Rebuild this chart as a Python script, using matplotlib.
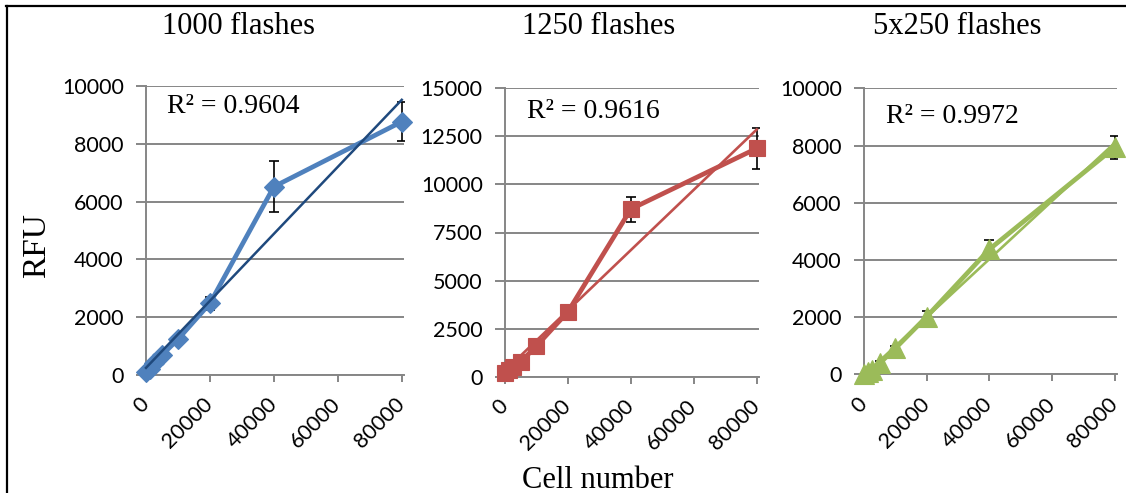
import numpy as np
import matplotlib
matplotlib.use("Agg")
import matplotlib.pyplot as plt
from matplotlib.lines import Line2D

# Cell numbers (shared x values)
cells = [0, 1250, 2500, 5000, 10000, 20000, 40000, 80000]

# Mean RFU and standard deviation per flash setting
rfu_1000 = [100, 200, 400, 690, 1235, 2480, 6516, 8765]
err_1000 = [30, 40, 60, 80, 110, 220, 890, 680]

rfu_1250 = [190, 350, 520, 780, 1597, 3380, 8720, 11877]
err_1250 = [30, 40, 60, 90, 120, 200, 650, 1060]

rfu_5x250 = [20, 80, 150, 385, 909, 2014, 4370, 7937]
err_5x250 = [20, 40, 60, 90, 80, 200, 330, 400]

titles = ["1000 flashes", "1250 flashes", "5x250 flashes"]
r2_labels = ["R\u00b2 = 0.9604", "R\u00b2 = 0.9616", "R\u00b2 = 0.9972"]
y_ticks = [
    [0, 2000, 4000, 6000, 8000, 10000],
    [0, 2500, 5000, 7500, 10000, 12500, 15000],
    [0, 2000, 4000, 6000, 8000, 10000],
]
x_ticks = [0, 20000, 40000, 60000, 80000]

W, H = 1126, 493
fig = plt.figure(figsize=(W / 100, H / 100), dpi=100)
fig.patch.set_facecolor("white")

serif = "Liberation Serif"
sans = "Lato"
grid_col = "#868686"

# panel boxes in pixels: left, right, top, bottom
boxes = [(146, 404, 86, 375), (505, 759, 88.3, 376.7), (864, 1117, 88.3, 374.3)]
series = [
    (rfu_1000, err_1000, "#4F81BD", "#1F497D", "D", 10.5, 1.8),
    (rfu_1250, err_1250, "#C0504D", "#C0504D", "s", 11.0, 1.9),
    (rfu_5x250, err_5x250, "#9BBB59", "#9BBB59", "^", 14, 1.9),
]
title_x = [239, 598.5, 957]
r2_pos = [(167, 113), (527, 118), (886, 123)]

x = np.array(cells, dtype=float)
for i, (box, ser) in enumerate(zip(boxes, series)):
    l, r, t, b = box
    ax = fig.add_axes([l / W, (H - b) / H, (r - l) / W, (b - t) / H])
    y, e, col, tcol, mk, ms, tlw = ser
    y = np.array(y, dtype=float)

    ax.errorbar(x, y, yerr=e, fmt="none", ecolor="black", elinewidth=1.2,
                capsize=3.5, capthick=1.2, zorder=2)
    ax.plot(x, y, color=col, lw=3.4, marker=mk, ms=ms, mfc=col, mec=col,
            mew=0.8, zorder=3, clip_on=False)

    # least-squares linear trend line over the data range
    k, c0 = np.polyfit(x, y, 1)
    xt = np.array([x.min(), x.max()])
    ax.plot(xt, k * xt + c0, color=tcol, lw=tlw, zorder=4, clip_on=False)

    ax.set_xlim(0, 80700)
    ax.set_ylim(y_ticks[i][0], y_ticks[i][-1])
    ax.set_yticks(y_ticks[i])
    ax.set_xticks(x_ticks)
    ax.set_xticklabels([str(v) for v in x_ticks], rotation=45, ha="right",
                       va="center", rotation_mode="anchor")
    ax.grid(axis="y", color=grid_col, lw=1.4)
    ax.set_axisbelow(True)
    for s in ("top", "right"):
        ax.spines[s].set_visible(False)
    for s in ("left", "bottom"):
        ax.spines[s].set_color(grid_col)
        ax.spines[s].set_linewidth(1.4)
    ax.tick_params(axis="both", colors=grid_col, width=1.4, labelcolor="black",
                   labelsize=15.5)
    ax.tick_params(axis="y", length=7, pad=9)
    ax.tick_params(axis="x", length=5, pad=14)
    for lab in ax.get_xticklabels() + ax.get_yticklabels():
        lab.set_fontfamily(sans)

    fig.text(title_x[i] / W, 1 - 34 / H, titles[i], ha="center", va="baseline",
             fontsize=22, family=serif)
    fig.text(r2_pos[i][0] / W, 1 - r2_pos[i][1] / H, r2_labels[i], ha="left",
             va="baseline", fontsize=20, family=serif)

fig.text(37 / W, 1 - 246 / H, "RFU", rotation=90, ha="center", va="center",
         fontsize=24, family=serif)
fig.text(597.5 / W, 1 - 488 / H, "Cell number", ha="center", va="baseline",
         fontsize=22, family=serif)

# outer frame: top and left edges
fig.add_artist(Line2D([6 / W, 1], [1 - 6 / H, 1 - 6 / H], color="black", lw=1.6,
                      transform=fig.transFigure))
fig.add_artist(Line2D([7 / W, 7 / W], [1 - 6 / H, 0], color="black", lw=1.6,
                      transform=fig.transFigure))

fig.savefig("out.png", dpi=100, facecolor="white")
